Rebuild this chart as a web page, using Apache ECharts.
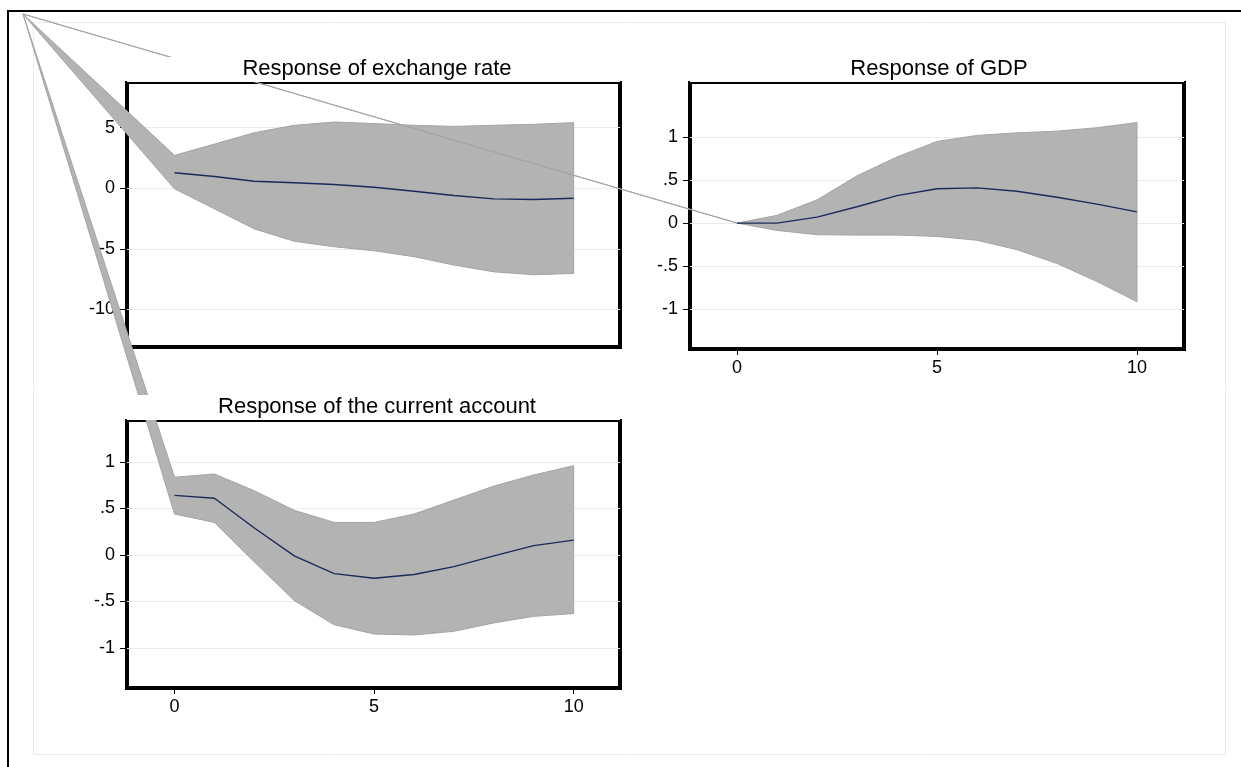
<!DOCTYPE html>
<html>
<head>
<meta charset="utf-8">
<title>Impulse responses</title>
<script src="https://cdn.jsdelivr.net/npm/echarts@6/dist/echarts.min.js"></script>
<style>
  html, body { margin: 0; padding: 0; background: #fff; }
  #main { width: 1241px; height: 767px; }
</style>
</head>
<body>
<div id="main"></div>
<script>
// horizon (periods after the shock)
var steps = [0, 1, 2, 3, 4, 5, 6, 7, 8, 9, 10];

// response of exchange rate
var erMean  = [1.27, 0.97, 0.58, 0.45, 0.31, 0.08, -0.25, -0.60, -0.88, -0.93, -0.83];
var erUpper = [2.71, 3.64, 4.58, 5.19, 5.46, 5.33, 5.19, 5.10, 5.19, 5.27, 5.41];
var erLower = [-0.05, -1.70, -3.36, -4.38, -4.83, -5.16, -5.65, -6.34, -6.90, -7.14, -7.03];

// response of GDP
var gdpMean  = [0, 0.0, 0.07, 0.19, 0.32, 0.40, 0.41, 0.37, 0.30, 0.22, 0.13];
var gdpUpper = [0, 0.09, 0.27, 0.55, 0.77, 0.95, 1.02, 1.05, 1.07, 1.11, 1.17];
var gdpLower = [0, -0.085, -0.135, -0.14, -0.14, -0.155, -0.20, -0.31, -0.47, -0.68, -0.915];

// response of the current account
var caMean  = [0.64, 0.61, 0.29, -0.01, -0.20, -0.25, -0.21, -0.125, -0.01, 0.10, 0.16];
var caUpper = [0.836, 0.87, 0.69, 0.48, 0.35, 0.35, 0.44, 0.59, 0.74, 0.86, 0.96];
var caLower = [0.44, 0.35, -0.075, -0.49, -0.75, -0.85, -0.86, -0.82, -0.73, -0.66, -0.63];

// tick labels
var erTicks = [5, 0, -5, -10];
var unitTicks = [1, 0.5, 0, -0.5, -1];
var xTicks = [0, 5, 10];

var titles = ['Response of exchange rate', 'Response of GDP', 'Response of the current account'];

// layout (pixels) of the three plot regions
var boxes = [
  { left: 127, top: 83, width: 493, height: 264, titleX: 377, yMin: -13.1, yMax: 8.68, xMin: -1.19, xMax: 11.16 },
  { left: 690, top: 83, width: 494, height: 266, titleX: 939, yMin: -1.465, yMax: 1.63, xMin: -1.175, xMax: 11.175 },
  { left: 127, top: 421, width: 493, height: 267, titleX: 377, yMin: -1.43, yMax: 1.44, xMin: -1.19, xMax: 11.16 }
];
// the source picture has every band outline starting from this stray point
var APEX = [23, 14];

var panels = [
  { mean: erMean, upper: erUpper, lower: erLower, yTicks: erTicks, xLabels: false },
  { mean: gdpMean, upper: gdpUpper, lower: gdpLower, yTicks: unitTicks, xLabels: true },
  { mean: caMean, upper: caUpper, lower: caLower, yTicks: unitTicks, xLabels: true }
];

var FONT = 'Liberation Sans';
var bandColor = '#b3b3b3';
var lineColor = '#1c2a5a';
var gridColor = '#e4edf0';

function stataNum(v) {
  return String(v).replace('0.', '.');
}

var grids = [], xAxes = [], yAxes = [], rightAxes = [], series = [], graphics = [];

panels.forEach(function (p, i) {
  var b = boxes[i];
  grids.push({
    left: b.left, top: b.top, width: b.width, height: b.height,
    show: true, borderColor: '#000', borderWidth: 2, backgroundColor: 'transparent'
  });
  xAxes.push({
    gridIndex: i, type: 'value', min: b.xMin, max: b.xMax, z: 3,
    axisLine: { onZero: false, lineStyle: { color: '#000', width: 4, cap: 'square' } },
    axisTick: { show: p.xLabels, length: 6, customValues: xTicks, lineStyle: { color: '#000', width: 1 } },
    axisLabel: { show: p.xLabels, customValues: xTicks, margin: 10, color: '#000', fontFamily: FONT, fontSize: 18 },
    splitLine: { show: false }
  });
  yAxes.push({
    gridIndex: i, type: 'value', min: b.yMin, max: b.yMax, z: 3,
    axisLine: { show: true, onZero: false, lineStyle: { color: '#000', width: 4, cap: 'square' } },
    axisTick: { show: true, length: 7, customValues: p.yTicks, lineStyle: { color: '#000', width: 1 } },
    axisLabel: { customValues: p.yTicks, margin: 12, color: '#000', fontFamily: FONT, fontSize: 18, formatter: stataNum },
    splitLine: { show: false }
  });
  rightAxes.push({
    gridIndex: i, type: 'value', position: 'right', min: b.yMin, max: b.yMax, z: 3,
    axisLine: { show: true, onZero: false, lineStyle: { color: '#000', width: 4, cap: 'square' } },
    axisTick: { show: false }, axisLabel: { show: false }, splitLine: { show: false }
  });

  // horizontal grid lines
  series.push({
    type: 'line', xAxisIndex: i, yAxisIndex: i, data: [], z: 1, silent: true,
    markLine: {
      silent: true, symbol: 'none', animation: false,
      label: { show: false },
      lineStyle: { color: gridColor, width: 1, type: 'solid' },
      data: p.yTicks.map(function (v) { return { yAxis: v }; })
    }
  });

  // confidence band (outline closes through the stray point, as in the source)
  series.push({
    type: 'custom', xAxisIndex: i, yAxisIndex: i, z: 5, clip: false, silent: true,
    data: [[0, 0]],
    renderItem: function (params, api) {
      var pts = [APEX.slice()];
      for (var k = 0; k < steps.length; k++) pts.push(api.coord([steps[k], p.upper[k]]));
      for (var k2 = steps.length - 1; k2 >= 0; k2--) pts.push(api.coord([steps[k2], p.lower[k2]]));
      return {
        type: 'polygon',
        shape: { points: pts },
        style: { fill: bandColor, stroke: '#a4a4a4', lineWidth: 1 }
      };
    }
  });

  // impulse response
  series.push({
    type: 'line', xAxisIndex: i, yAxisIndex: i, z: 6, silent: true,
    data: steps.map(function (s, k) { return [s, p.mean[k]]; }),
    showSymbol: false, symbol: 'none',
    lineStyle: { color: lineColor, width: 1.4 }
  });

  // title box (white, covers whatever passes behind the title)
  graphics.push({
    type: 'rect', z: 100, silent: true,
    shape: { x: b.left, y: b.top - 26, width: b.width, height: 25 },
    style: { fill: '#fff' }
  });
  graphics.push({
    type: 'text', z: 101, silent: true,
    x: b.titleX, y: b.top - 14,
    style: { text: titles[i], fill: '#000', font: '22px "' + FONT + '"', textAlign: 'center', textVerticalAlign: 'middle' }
  });
});

// outer frame and inner graph region
graphics.push({
  type: 'rect', z: 0, silent: true,
  shape: { x: 8, y: 11, width: 1300, height: 900 },
  style: { fill: 'none', stroke: '#000', lineWidth: 2 }
});
graphics.push({
  type: 'rect', z: 0, silent: true,
  shape: { x: 33.5, y: 22.5, width: 1192, height: 732 },
  style: { fill: 'none', stroke: '#e6eef1', lineWidth: 1 }
});

var chart = echarts.init(document.getElementById('main'), null, { renderer: 'canvas' });
chart.setOption({
  animation: false,
  backgroundColor: '#fff',
  grid: grids,
  xAxis: xAxes,
  yAxis: yAxes.concat(rightAxes),
  series: series,
  graphic: { elements: graphics }
});
</script>
</body>
</html>
